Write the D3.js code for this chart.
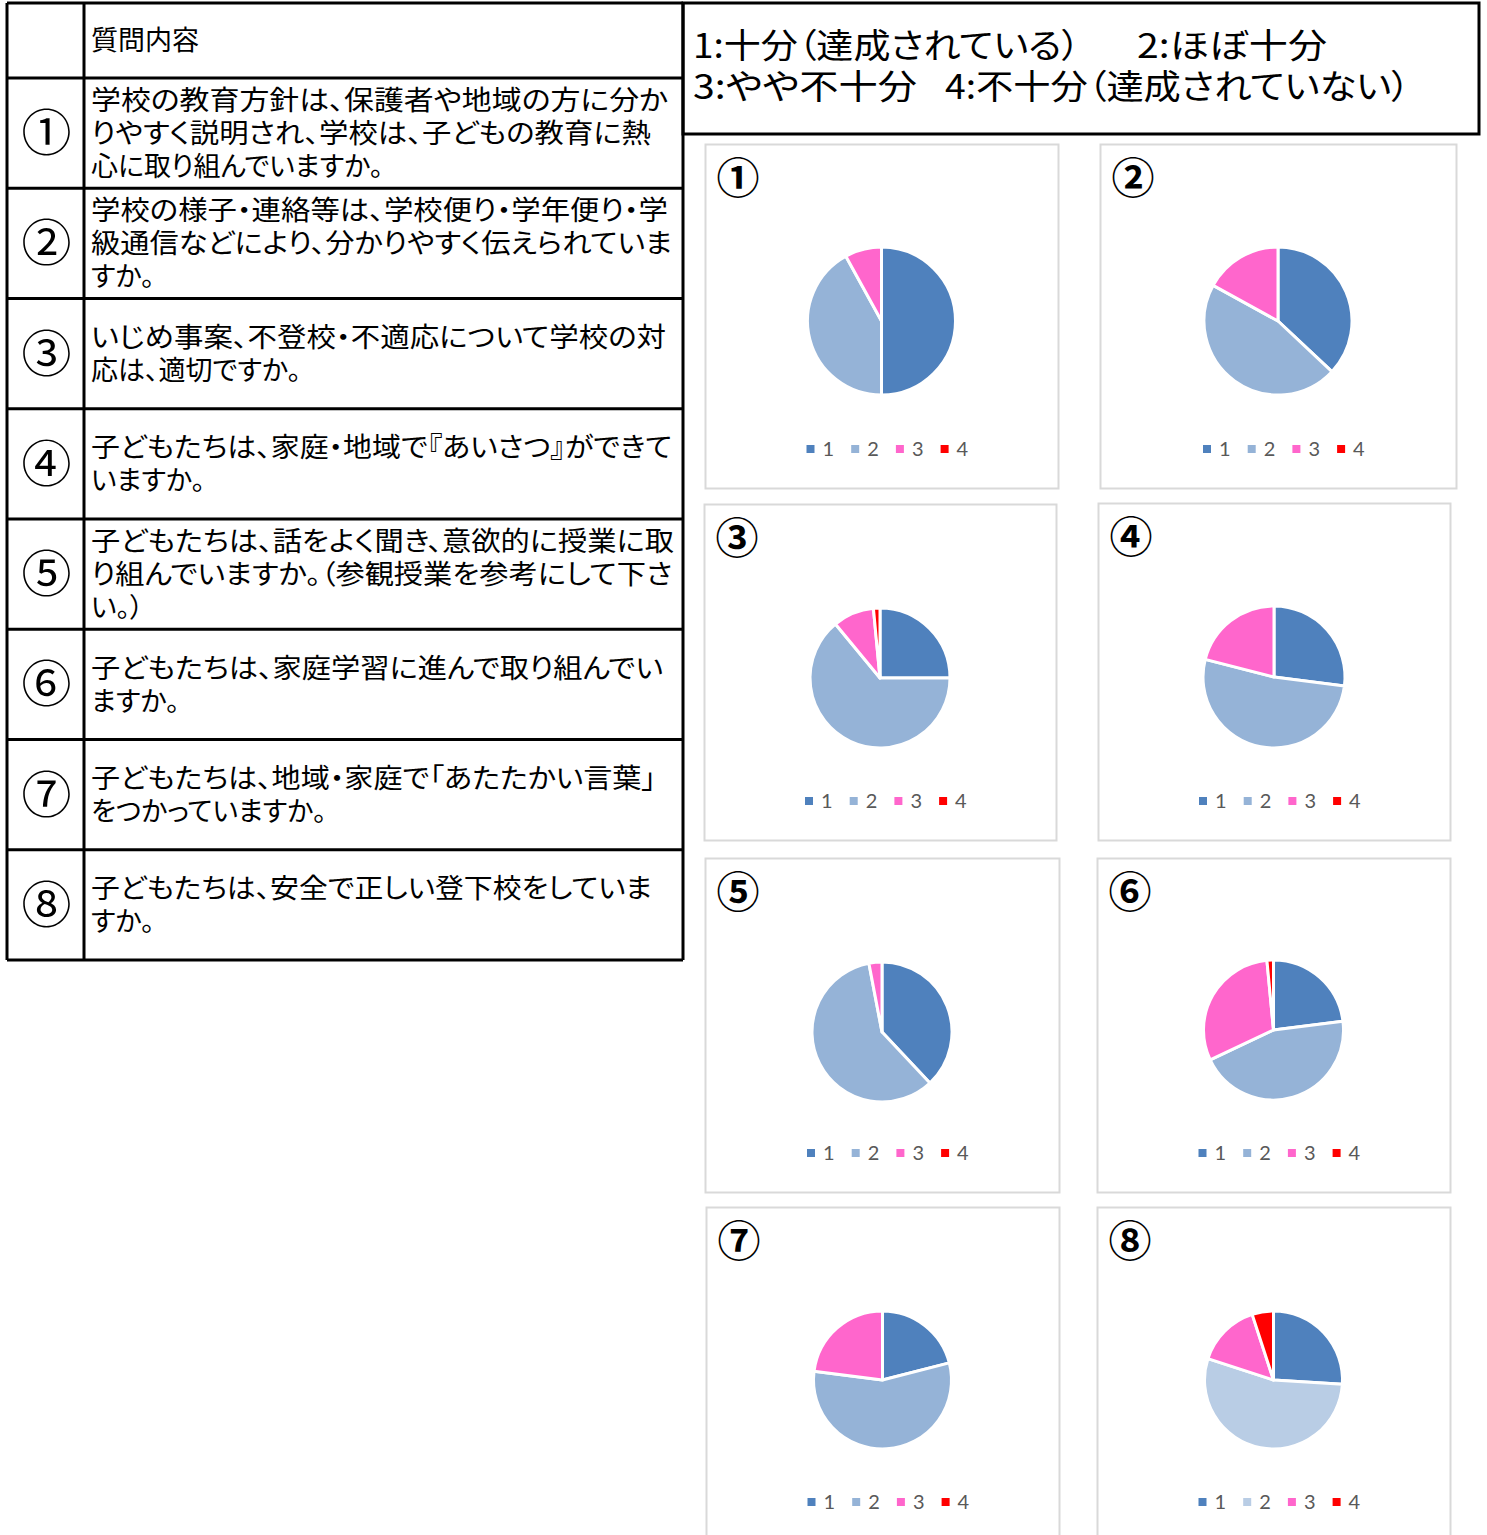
<!DOCTYPE html>
<html lang="ja">
<head>
<meta charset="utf-8">
<script src="https://cdn.jsdelivr.net/npm/d3@7"></script>
<style>
  body { margin: 0; background: #fff; }
  text.jp { font-feature-settings: "palt" 1; }
</style>
</head>
<body>
<div id="survey-chart"></div>
<script>
// 回答区分
const categories = ["1", "2", "3", "4"];

// 設問番号と質問内容（行ごと）
const questionNumbers = ["①", "②", "③", "④", "⑤", "⑥", "⑦", "⑧"];
const questionTexts = [
    ["学校の教育方針は、保護者や地域の方に分か", "りやすく説明され、学校は、子どもの教育に熱", "心に取り組んでいますか。"],
    ["学校の様子・連絡等は、学校便り・学年便り・学", "級通信などにより、分かりやすく伝えられていま", "すか。"],
    ["いじめ事案、不登校・不適応について学校の対", "応は、適切ですか。"],
    ["子どもたちは、家庭・地域で『あいさつ』ができて", "いますか。"],
    ["子どもたちは、話をよく聞き、意欲的に授業に取", "り組んでいますか。（参観授業を参考にして下さ", "い。）"],
    ["子どもたちは、家庭学習に進んで取り組んでい", "ますか。"],
    ["子どもたちは、地域・家庭で「あたたかい言葉」", "をつかっていますか。"],
    ["子どもたちは、安全で正しい登下校をしていま", "すか。"]
];
const headerText = "質問内容";

// 凡例（評価の説明）
const scaleLabels = [
    ["1:十分（達成されている）", "2:ほぼ十分"],
    ["3:やや不十分", "4:不十分（達成されていない）"]
];

// 各設問の回答割合（%）: 1, 2, 3, 4 の順
const q1Values = [50, 42, 8, 0];
const q2Values = [37, 46, 17, 0];
const q3Values = [25, 64, 9.5, 1.5];
const q4Values = [27, 52, 21, 0];
const q5Values = [38, 59, 3, 0];
const q6Values = [23, 45, 30.5, 1.5];
const q7Values = [21, 56, 23, 0];
const q8Values = [26, 54, 15, 5];
const allValues = [q1Values, q2Values, q3Values, q4Values, q5Values, q6Values, q7Values, q8Values];

document.addEventListener('DOMContentLoaded', function() {
    const width = 1487;
    const height = 1535;
    const jpFont = "'Noto Sans CJK JP', 'Noto Sans CJK SC', sans-serif";

    const svg = d3.select("#survey-chart")
        .append("svg")
        .attr("width", width)
        .attr("height", height)
        .attr("viewBox", `0 0 ${width} ${height}`);

    svg.append("rect")
        .attr("width", width)
        .attr("height", height)
        .attr("fill", "#fff");

    // ---- 左の表 ----
    const table = { left: 7, numRight: 84, right: 683, top: 3, headerBottom: 78, rowH: 110.25, textX: 91 };
    const rowTop = i => table.headerBottom + i * table.rowH;
    const tableBottom = rowTop(questionTexts.length);

    // 折り返し行の右端（参照画像に合わせる）
    const lineEnds = [
        [668, 651], [668, 672], [666], [672], [674, 672], [663], [656], [652]
    ];

    const grid = svg.append("g")
        .attr("stroke", "#000")
        .attr("stroke-width", 3)
        .attr("fill", "none");

    // 横線
    const hLines = [table.top, table.headerBottom].concat(d3.range(1, questionTexts.length + 1).map(rowTop));
    grid.selectAll("line.h")
        .data(hLines)
        .enter()
        .append("line")
        .attr("class", "h")
        .attr("x1", table.left)
        .attr("x2", table.right)
        .attr("y1", d => d)
        .attr("y2", d => d);

    // 縦線
    grid.selectAll("line.v")
        .data([table.left, table.numRight, table.right])
        .enter()
        .append("line")
        .attr("class", "v")
        .attr("x1", d => d)
        .attr("x2", d => d)
        .attr("y1", table.top)
        .attr("y2", tableBottom);

    // 見出し
    svg.append("text")
        .attr("class", "jp")
        .attr("x", table.textX)
        .attr("y", (table.top + table.headerBottom) / 2)
        .attr("dy", "0.36em")
        .attr("font-family", jpFont)
        .attr("font-size", 27)
        .text(headerText);

    const lineH = 33;
    const rows = svg.selectAll("g.row")
        .data(questionTexts)
        .enter()
        .append("g")
        .attr("class", "row")
        .attr("transform", (d, i) => `translate(0,${rowTop(i) + table.rowH / 2})`);

    rows.append("text")
        .attr("x", (table.left + table.numRight) / 2 + 1)
        .attr("y", 0)
        .attr("dy", "0.36em")
        .attr("text-anchor", "middle")
        .attr("font-family", jpFont)
        .attr("font-size", 50)
        .text((d, i) => questionNumbers[i]);

    rows.each(function(lines, i) {
        d3.select(this).selectAll("text.q")
            .data(lines)
            .enter()
            .append("text")
            .attr("class", "q jp")
            .attr("x", table.textX)
            .attr("y", (d, j) => (j - (lines.length - 1) / 2) * lineH)
            .attr("dy", "0.36em")
            .attr("font-family", jpFont)
            .attr("font-size", 27)
            .each(function(d, j) {
                const end = lineEnds[i][j];
                if (end) {
                    d3.select(this)
                        .attr("textLength", end - table.textX)
                        .attr("lengthAdjust", "spacingAndGlyphs");
                }
            })
            .text(d => d);
    });

    // ---- 評価の説明枠 ----
    const keyBox = { x: 683, y: 3, w: 796, h: 131 };
    svg.append("rect")
        .attr("x", keyBox.x)
        .attr("y", keyBox.y)
        .attr("width", keyBox.w)
        .attr("height", keyBox.h)
        .attr("fill", "none")
        .attr("stroke", "#000")
        .attr("stroke-width", 3);

    const keyPos = [[693, 1137], [693, 945]];
    const keyLen = [[387, 190], [224, 465]];
    const keyY = [46, 87];
    scaleLabels.forEach((line, r) => {
        line.forEach((label, c) => {
            svg.append("text")
                .attr("class", "jp")
                .attr("x", keyPos[r][c])
                .attr("y", keyY[r])
                .attr("dy", "0.36em")
                .attr("font-family", jpFont)
                .attr("font-size", 34)
                .attr("textLength", keyLen[r][c])
                .attr("lengthAdjust", "spacingAndGlyphs")
                .text(label);
        });
    });

    // ---- 円グラフ ----
    const sliceColors = ["#4F81BD", "#95B3D7", "#FF66CC", "#FF0000"];
    const color = d3.scaleOrdinal().domain(categories).range(sliceColors);

    const panels = [
        { x: 705,  y: 144,  w: 353, h: 344, cy: 177, r: 74, ly: 305 },
        { x: 1100, y: 144,  w: 356, h: 344, cy: 177, r: 74, ly: 305 },
        { x: 704,  y: 504,  w: 352, h: 336, cy: 174, r: 70, ly: 297 },
        { x: 1098, y: 503,  w: 352, h: 337, cy: 174, r: 71, ly: 298 },
        { x: 705,  y: 858,  w: 354, h: 334, cy: 174, r: 70, ly: 295 },
        { x: 1097, y: 858,  w: 353, h: 334, cy: 172, r: 70, ly: 295 },
        { x: 706,  y: 1207, w: 353, h: 340, cy: 173, r: 69, ly: 295 },
        { x: 1097, y: 1207, w: 353, h: 340, cy: 173, r: 69, ly: 295 }
    ];

    const pie = d3.pie().sort(null).value(d => d.value);

    allValues.forEach((values, k) => {
        const p = panels[k];
        const colorOf = c => (k === 7 && c === "2") ? "#B9CDE5" : color(c);

        const g = svg.append("g")
            .attr("transform", `translate(${p.x},${p.y})`);

        g.append("rect")
            .attr("x", 0.5)
            .attr("y", 0.5)
            .attr("width", p.w)
            .attr("height", p.h)
            .attr("fill", "#fff")
            .attr("stroke", "#D9D9D9")
            .attr("stroke-width", 2);

        g.append("text")
            .attr("x", 33)
            .attr("y", 35)
            .attr("dy", "0.36em")
            .attr("text-anchor", "middle")
            .attr("font-family", jpFont)
            .attr("font-weight", "bold")
            .attr("font-size", 43)
            .text(questionNumbers[k]);

        const arc = d3.arc().innerRadius(0).outerRadius(p.r);
        const data = categories.map((c, i) => ({ cat: c, value: values[i] }));

        g.append("g")
            .attr("transform", `translate(${p.w / 2},${p.cy})`)
            .selectAll("path")
            .data(pie(data).filter(d => d.data.value > 0))
            .enter()
            .append("path")
            .attr("d", arc)
            .attr("fill", d => colorOf(d.data.cat))
            .attr("stroke", "#fff")
            .attr("stroke-width", 3)
            .attr("stroke-linejoin", "round");

        // 凡例
        const legend = g.append("g")
            .attr("transform", `translate(${p.w / 2 - 75},${p.ly})`);

        const item = legend.selectAll("g")
            .data(categories)
            .enter()
            .append("g")
            .attr("transform", (d, i) => `translate(${i * 44.7},0)`);

        item.append("rect")
            .attr("x", 0)
            .attr("y", -4)
            .attr("width", 8)
            .attr("height", 8)
            .attr("fill", d => colorOf(d));

        item.append("text")
            .attr("x", 16)
            .attr("y", 0)
            .attr("dy", "0.35em")
            .attr("font-family", "Lato, 'Open Sans', sans-serif")
            .attr("font-size", 20)
            .attr("fill", "#595959")
            .text(d => d);
    });
});
</script>
</body>
</html>
